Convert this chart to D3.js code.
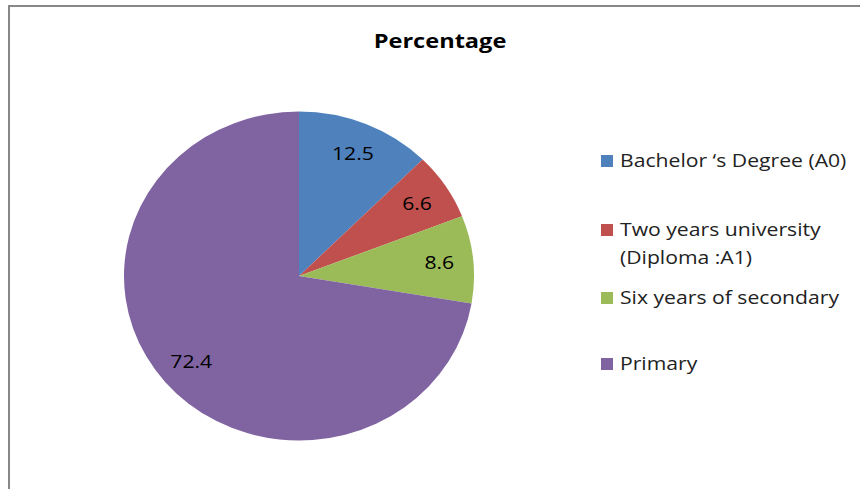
<!DOCTYPE html>
<html>
<head>
<meta charset="utf-8">
<script src="https://cdn.jsdelivr.net/npm/d3@7/dist/d3.min.js"></script>
<style>
  html, body { margin: 0; padding: 0; background: #fff; }
  svg { display: block; font-family: "Open Sans", sans-serif; }
</style>
</head>
<body>
<svg id="chart" width="860" height="489"></svg>
<script>
// Education level shares (percent)
const categories = [
  "Bachelor \u2018s Degree (A0)",
  "Two years university (Diploma :A1)",
  "Six years of secondary",
  "Primary"
];
const legendLines = [
  ["Bachelor \u2018s Degree (A0)"],
  ["Two years university", "(Diploma :A1)"],
  ["Six years of secondary"],
  ["Primary"]
];
const values = [12.5, 6.6, 8.6, 72.4];
const colors = ["#4F81BD", "#C0504D", "#9BBB59", "#8064A2"];
const title = "Percentage";

// Text in this chart is drawn a little wider than the font's natural width
const stretch = 1.21;
const place = (x, y) => `translate(${x},${y}) scale(${stretch},1)`;

const svg = d3.select("#chart");

// Chart frame
svg.append("rect")
  .attr("x", 9).attr("y", 6)
  .attr("width", 900).attr("height", 600)
  .attr("fill", "#fff")
  .attr("stroke", "#878787")
  .attr("stroke-width", 2);

svg.append("text")
  .attr("transform", place(440, 48))
  .attr("text-anchor", "middle")
  .attr("font-size", 19.5)
  .attr("font-weight", "bold")
  .attr("fill", "#000")
  .text(title);

// Pie (slightly flattened vertically)
const cx = 299, cy = 276, rx = 175, ry = 164.5;
const squash = ry / rx;
const pie = d3.pie().value(d => d).sort(null);
const arcs = pie(values);
const arc = d3.arc().innerRadius(0).outerRadius(rx);
const labelArc = d3.arc().innerRadius(141).outerRadius(141);

const pieG = svg.append("g")
  .attr("transform", `translate(${cx},${cy}) scale(1,${squash})`);
pieG.selectAll("path")
  .data(arcs)
  .join("path")
  .attr("d", arc)
  .attr("fill", (d, i) => colors[i]);

svg.append("g")
  .attr("transform", `translate(${cx},${cy})`)
  .selectAll("text")
  .data(arcs)
  .join("text")
  .attr("transform", d => {
    const [x, y] = labelArc.centroid(d);
    return place(x, y * squash);
  })
  .attr("dy", "0.35em")
  .attr("text-anchor", "middle")
  .attr("font-size", 17.5)
  .attr("fill", "#000")
  .text(d => d.data.toFixed(1));

// Legend
const legendY = [155, 224, 292, 358];
const legend = svg.append("g");
legendLines.forEach((lines, i) => {
  const g = legend.append("g").attr("transform", `translate(601,${legendY[i]})`);
  g.append("rect")
    .attr("width", 12).attr("height", 12)
    .attr("fill", colors[i]);
  lines.forEach((ln, j) => {
    g.append("text")
      .attr("transform", place(19, 12 + j * 28))
      .attr("font-size", 17.5)
      .attr("fill", "#222")
      .text(ln);
  });
});
</script>
</body>
</html>
